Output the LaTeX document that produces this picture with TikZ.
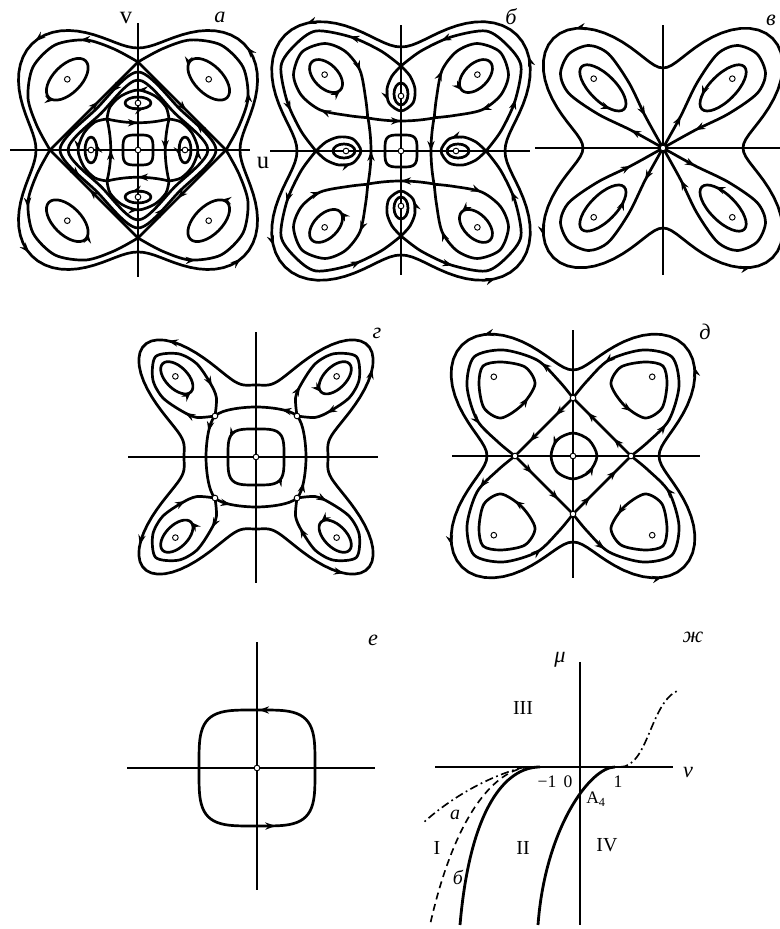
\documentclass[tikz,border=0pt]{standalone}
\usepackage{fontspec}
\setmainfont{Liberation Serif}
\usetikzlibrary{arrows.meta,decorations.markings}

\begin{document}
\begin{tikzpicture}[x=0.3mm,y=0.3mm,
    traj/.style={line width=2.3pt,line join=round},
    axisline/.style={line width=1.2pt},
    eq/.style={circle,draw,fill=white,line width=0.8pt,inner sep=0pt,minimum size=1.7mm},
    tag/.style={font=\fontsize{19}{22}\selectfont\itshape},
    lbl/.style={font=\fontsize{21}{24}\selectfont},
    region/.style={font=\fontsize{17}{20}\selectfont},
    tick/.style={font=\fontsize{15}{18}\selectfont},
    arr/.style={postaction={decorate,decoration={markings,
        mark=at position #1 with {\arrow{Stealth[length=3mm,width=2.2mm]}}}}}]
\useasboundingbox (0,0) rectangle (780,929);

% а
\begin{scope}[shift={(138,779)}]
  \draw[axisline] (-128,0) -- (112,0);
  \draw[axisline] (0,-127) -- (0,127);
  \node[lbl] (a-v) at (-12,132) {v};
  \node[lbl] (a-u) at (125,-13) {u};
  \node[tag] (a-tag) at (82,133) {а};
  \draw[traj,arr=0.12,arr=0.37,arr=0.62,arr=0.87] plot[domain=0:360,samples=121] (\x:{126-24*cos(4*\x)}) -- cycle;
  \draw[traj,arr=0.2,arr=0.45,arr=0.7,arr=0.95] plot[smooth cycle] coordinates {(78,0) (41.4,41.4) (0,78) (-41.4,41.4) (-78,0) (-41.4,-41.4) (0,-78) (41.4,-41.4)};
  \draw[traj] plot[smooth cycle] coordinates {(70,0) (36.8,36.8) (0,70) (-36.8,36.8) (-70,0) (-36.8,-36.8) (0,-70) (36.8,-36.8)};
  \draw[traj] plot[domain=0:360,samples=73] (\x:{15/sqrt(sqrt((cos(\x)*cos(\x))^2+(sin(\x)*sin(\x))^2))}) -- cycle;
  \foreach \r in {0,90,180,270} {
    \begin{scope}[rotate=\r]
      \draw[traj,arr=0.3] plot[smooth] coordinates {(88,0) (101,24) (110,52) (105,83) (83,105) (52,110) (24,101) (0,88)};
      \draw[traj,arr=0.55] (0,88) -- (88,0);
      \draw[traj,arr=0.5] plot[smooth] coordinates {(31,-31) (43,-28) (54,-17) (60,0) (54,17) (43,28) (31,31)};
      \draw[traj,arr=0.5] (31,31) .. controls (26,10) and (26,-10) .. (31,-31);
      \draw[traj,arr=0.6] (47,0) ellipse (6 and 13);
      \draw[traj,rotate=45,arr=0.3] (100,0) ellipse (14 and 26);
    \end{scope}
  }
  \node[eq] (a-o) at (0,0) {};
  \foreach \r in {0,90,180,270} {
    \node[eq] (a-c\r) at (\r:47) {};
    \node[eq] (a-d\r) at (\r+45:100) {};
  }
\end{scope}

% б
\begin{scope}[shift={(401,778)}]
  \draw[axisline] (-131,0) -- (129,0);
  \draw[axisline] (0,-124) -- (0,126);
  \node[tag] (b-tag) at (110,134) {б};
  \draw[traj,arr=0.1,arr=0.35,arr=0.6,arr=0.85] plot[domain=0:360,samples=121] (\x:{134-30*cos(4*\x)}) -- cycle;
  \draw[traj] plot[domain=0:360,samples=73] (\x:{16/sqrt(sqrt((cos(\x)*cos(\x))^2+(sin(\x)*sin(\x))^2))}) -- cycle;
  \foreach \r in {0,90,180,270} {
    \begin{scope}[rotate=\r]
      \draw[traj,arr=0.25,arr=0.8] plot[smooth] coordinates {(85,0) (100,20) (114,50) (120,85) (106,106) (85,120) (50,114) (20,100) (0,85)};
      \draw[traj,arr=0.35] plot[smooth] coordinates {(85,0) (75,9) (62,14) (48,12) (40,0) (48,-12) (62,-14) (75,-9) (85,0)};
      \draw[traj] (57,0) ellipse (11 and 7);
      \draw[traj,arr=0.5] (33,33) .. controls (29,10) and (29,-10) .. (33,-33);
      \begin{scope}[rotate=45]
        \draw[traj,arr=0.2,arr=0.8] plot[smooth] coordinates {(47,0) (62,12) (86,28) (110,31) (130,22) (140,0) (130,-22) (110,-31) (86,-28) (62,-12) (47,0)};
        \draw[traj,arr=0.5] (106,0) ellipse (20 and 12);
      \end{scope}
    \end{scope}
  }
  \node[eq] (b-o) at (0,0) {};
  \foreach \r in {0,90,180,270} {
    \node[eq] (b-c\r) at (\r:55) {};
    \node[eq] (b-d\r) at (\r+45:108) {};
  }
\end{scope}

% в
\begin{scope}[shift={(663,781)}]
  \draw[axisline] (-128,0) -- (117,0);
  \draw[axisline] (0,-127) -- (0,123);
  \node[tag] (c-tag) at (108,128) {в};
  \draw[traj,arr=0.1,arr=0.35,arr=0.6,arr=0.85] plot[domain=0:360,samples=121] (\x:{117.5-37.5*cos(4*\x)}) -- cycle;
  \foreach \r in {0,90,180,270} {
    \begin{scope}[rotate=\r+45]
      \draw[traj,arr=0.12,arr=0.88] plot[smooth] coordinates {(0,0) (35,10) (70,22) (105,28) (125,20) (133,0) (125,-20) (105,-28) (70,-22) (35,-10) (0,0)};
      \draw[traj,arr=0.4] (85,0) ellipse (30 and 13);
    \end{scope}
  }
  \node[eq] (c-o) at (0,0) {};
  \foreach \r in {0,90,180,270}
    \node[eq] (c-d\r) at (\r+45:98) {};
\end{scope}

% г
\begin{scope}[shift={(256,472)}]
  \draw[axisline] (-128,0) -- (122,0);
  \draw[axisline] (0,-126) -- (0,125);
  \node[tag] (d-tag) at (121,124) {г};
  \draw[traj,arr=0.1,arr=0.35,arr=0.6,arr=0.85] plot[domain=0:360,samples=181] (\x:{72+86*(sin(2*\x)*sin(2*\x))^2}) -- cycle;
  \draw[traj,arr=0.05,arr=0.3,arr=0.55,arr=0.8] plot[smooth cycle] coordinates {(50,0) (41,41) (0,50) (-41,41) (-50,0) (-41,-41) (0,-50) (41,-41)};
  \draw[traj,arr=0.4,arr=0.9] plot[domain=0:360,samples=73] (\x:{28/sqrt(sqrt((cos(\x)*cos(\x))^2+(sin(\x)*sin(\x))^2))}) -- cycle;
  \foreach \r in {0,90,180,270} {
    \begin{scope}[rotate=\r+45]
      \draw[traj,arr=0.15,arr=0.85] plot[smooth] coordinates {(58,0) (70,14) (85,20) (108,24) (128,18) (142,0) (128,-18) (108,-24) (85,-20) (70,-14) (58,0)};
      \draw[traj,arr=0.5] (112,0) ellipse (20 and 11);
    \end{scope}
  }
  \node[eq] (d-o) at (0,0) {};
  \foreach \r in {0,90,180,270} {
    \node[eq] (d-s\r) at (\r+45:58) {};
    \node[eq] (d-d\r) at (\r+45:114) {};
  }
\end{scope}

% д
\begin{scope}[shift={(573,473)}]
  \draw[axisline] (-121,0) -- (127,0);
  \draw[axisline] (0,-122) -- (0,126);
  \node[tag] (e-tag) at (132,124) {д};
  \draw[traj,arr=0.1,arr=0.35,arr=0.6,arr=0.85] plot[domain=0:360,samples=121] (\x:{121.5-35.5*cos(4*\x)}) -- cycle;
  \draw[traj,arr=0.3,arr=0.8] plot[smooth cycle] coordinates {(24,0) (16,16) (0,23) (-16,16) (-22,0) (-16,-16) (0,-23) (16,-16)};
  \foreach \r in {0,90,180,270} {
    \begin{scope}[rotate=\r]
      \draw[traj,arr=0.2,arr=0.8] plot[smooth] coordinates {(58,0) (75,14) (96,36) (106,70) (99,99) (70,106) (36,96) (14,75) (0,58)};
      \draw[traj,arr=0.3,arr=0.75] (58,0) -- (0,58);
      \draw[traj,arr=0.45] plot[smooth cycle] coordinates {(90,90) (72,94) (48,89) (38,72) (51,51) (72,38) (89,48) (94,72)};
    \end{scope}
  }
  \node[eq] (e-o) at (0,0) {};
  \foreach \r in {0,90,180,270} {
    \node[eq] (e-s\r) at (\r:58) {};
    \node[eq] (e-d\r) at (\r+45:112) {};
  }
\end{scope}

% е
\begin{scope}[shift={(257,161)}]
  \draw[axisline] (-130,0) -- (118,0);
  \draw[axisline] (0,-122) -- (0,126);
  \node[tag] (f-tag) at (116,128) {е};
  \draw[traj,arr=0.245,arr=0.795] plot[domain=0:360,samples=121] (\x:{58/sqrt(sqrt((cos(\x)*cos(\x))^2+(sin(\x)*sin(\x))^2))}) -- cycle;
  \node[eq] (f-o) at (0,0) {};
\end{scope}

% ж
\begin{scope}[shift={(580,162)}]
  \draw[line width=2.4pt] (-145,0) -- (93,0);
  \draw[line width=1.6pt] (0,105) -- (0,-158);
  \draw[line width=2.4pt] (-40,0) .. controls (-75,0) and (-110,-42) .. (-120,-158);
  \draw[line width=2.4pt] (35,0) .. controls (10,0) and (-35,-62) .. (-42,-158);
  \draw[line width=1.4pt,dash pattern=on 6pt off 4pt] (-50,0) .. controls (-85,-2) and (-125,-47) .. (-150,-158);
  \draw[line width=1.4pt,dash pattern=on 7pt off 3pt on 1.5pt off 3pt] (-55,0) .. controls (-85,-7) and (-125,-27) .. (-157,-56);
  \draw[line width=1.4pt,dash pattern=on 7pt off 3pt on 1.5pt off 3pt] (40,0) .. controls (68,0) and (70,63) .. (97,76);
  \node[tag] (g-tag) at (113,130) {ж};
  \node[tag] (g-mu) at (-20,107) {μ};
  \node[tag] (g-nu) at (108,-6) {ν};
  \node[tick] (g-m1) at (-33,-15) {−1};
  \node[tick] (g-0) at (-12,-15) {0};
  \node[tick] (g-1) at (38,-15) {1};
  \node[tick] (g-A) at (16,-32) {A\textsubscript{4}};
  \node[region] (g-III) at (-57,59) {III};
  \node[region] (g-I) at (-143,-81) {I};
  \node[region] (g-II) at (-57,-81) {II};
  \node[region] (g-IV) at (27,-78) {IV};
  \node[tag,font=\fontsize{17}{20}\selectfont\itshape] (g-a) at (-125,-48) {а};
  \node[tag,font=\fontsize{17}{20}\selectfont\itshape] (g-b) at (-122,-110) {б};
\end{scope}
\end{tikzpicture}
\end{document}
